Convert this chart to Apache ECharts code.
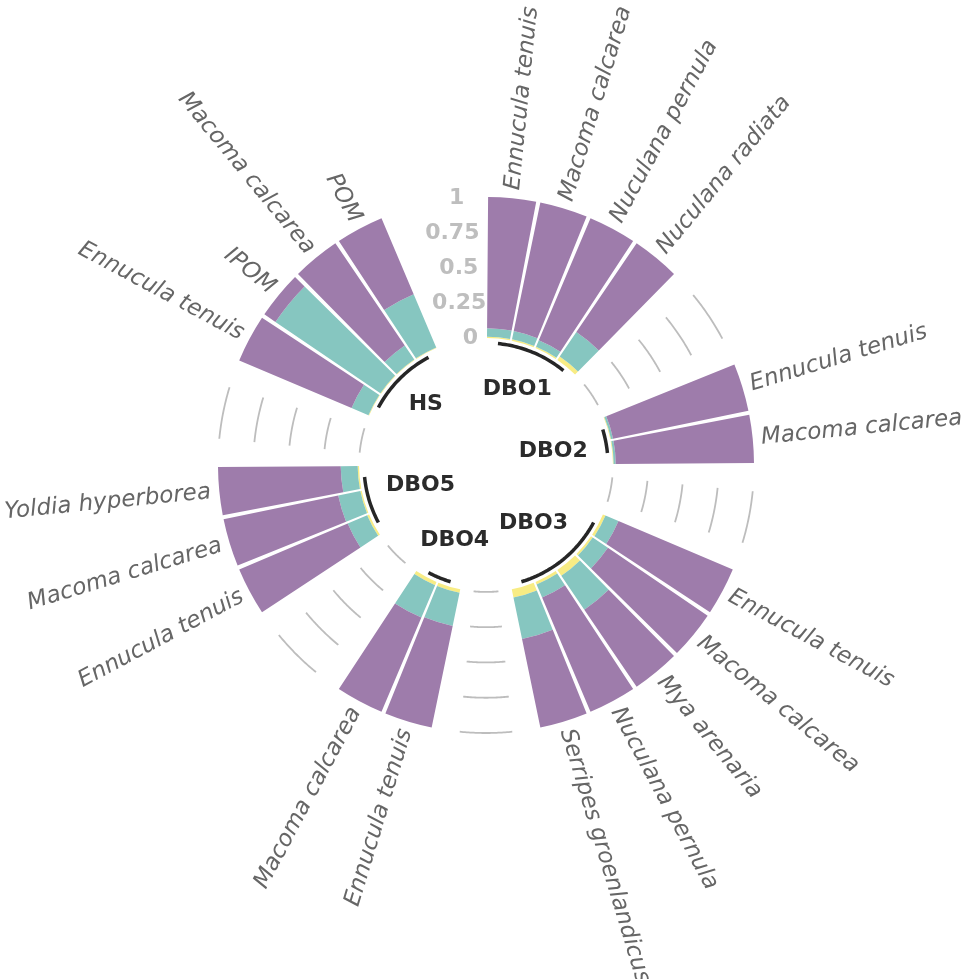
<!DOCTYPE html>
<html>
<head>
<meta charset="utf-8">
<script src="https://cdn.jsdelivr.net/npm/echarts@6/dist/echarts.min.js"></script>
<style>
  html, body { margin: 0; background: #fff; }
  #chart { width: 962px; height: 979px; }
</style>
</head>
<body>
<div id="chart"></div>
<script>
// groups go clockwise from the top, 2 empty slots after each group
const groupNames = ['DBO1', 'DBO2', 'DBO3', 'DBO4', 'DBO5', 'HS'];
const groupSizes = [4, 2, 5, 2, 3, 4];
const speciesNames = [
    'Ennucula tenuis', 'Macoma calcarea', 'Nuculana pernula', 'Nuculana radiata',
    'Ennucula tenuis', 'Macoma calcarea',
    'Ennucula tenuis', 'Macoma calcarea', 'Mya arenaria', 'Nuculana pernula', 'Serripes groenlandicus',
    'Ennucula tenuis', 'Macoma calcarea',
    'Ennucula tenuis', 'Macoma calcarea', 'Yoldia hyperborea',
    'Ennucula tenuis', 'IPOM', 'Macoma calcarea', 'POM'
];
// stacked shares, bottom to top
const yellowShare = [0.01, 0.01, 0.01, 0.03, 0.005, 0.005, 0.02, 0.015, 0.05, 0.02, 0.06, 0.025, 0.025, 0.015, 0.01, 0.01, 0.005, 0.005, 0.005, 0.005];
const tealShare   = [0.06, 0.06, 0.05, 0.21, 0.015, 0.015, 0.10, 0.13, 0.29, 0.10, 0.30, 0.24, 0.25, 0.15, 0.16, 0.12, 0.13, 0.90, 0.12, 0.41];
const purpleShare = [0.93, 0.93, 0.94, 0.76, 0.98, 0.98, 0.88, 0.855, 0.66, 0.88, 0.64, 0.735, 0.725, 0.835, 0.83, 0.87, 0.865, 0.095, 0.875, 0.585];
const tickValues = [0, 0.25, 0.5, 0.75, 1];
const tickLabels = ['0', '0.25', '0.5', '0.75', '1'];
const emptyPerGroup = 2;

const FONT = 'DejaVu Sans';
const COLORS = { yellow: '#f8ec84', teal: '#86c6c0', purple: '#9e7cab' };

// build slot arrays (bars + empty gap slots)
const slotCats = [], ySlots = [], tSlots = [], pSlots = [];
const speciesPos = [], groupSpans = [];
let k = 0, slot = 0;
groupNames.forEach((g, gi) => {
    const first = slot;
    for (let j = 0; j < groupSizes[gi]; j++) {
        slotCats.push('s' + slot);
        ySlots.push(yellowShare[k]);
        tSlots.push(tealShare[k]);
        pSlots.push(purpleShare[k]);
        speciesPos.push([1.06, slot + 0.5]);
        k++; slot++;
    }
    groupSpans.push({ name: g, first: first, last: slot - 1 });
    for (let e = 0; e < emptyPerGroup; e++) {
        slotCats.push('s' + slot);
        ySlots.push(null); tSlots.push(null); pSlots.push(null);
        slot++;
    }
});
const slotCount = slot;

// short grey arcs in every gap except the one before the first group
const gridArcs = [];
groupSpans.forEach((gs, gi) => {
    if (gi === 0) return;
    const a1 = gs.first - emptyPerGroup + 0.5;
    const a2 = gs.first - 1 + 0.5;
    tickValues.forEach(v => gridArcs.push([v, a1, a2]));
});
const baseArcs = groupSpans.map(gs => [-0.035, gs.first + 0.5, gs.last + 0.5]);
const groupPos = groupSpans.map(gs => [-0.16, (gs.first + gs.last + 1) / 2]);
const tickPos = tickValues.map(v => [v, slotCount - 0.5]);

const measureCtx = document.createElement('canvas').getContext('2d');
function textWidth(text, font) {
    measureCtx.font = font;
    return measureCtx.measureText(text).width;
}

function arcRenderer(color, width) {
    return function (params, api) {
        const r = api.value(0), a1 = api.value(1), a2 = api.value(2);
        const pts = [];
        for (let i = 0; i <= 30; i++) {
            pts.push(api.coord([r, a1 + (a2 - a1) * i / 30]));
        }
        return {
            type: 'polyline',
            shape: { points: pts },
            style: { stroke: color, lineWidth: width, fill: null }
        };
    };
}

const hidden = {
    axisLine: { show: false }, axisTick: { show: false },
    axisLabel: { show: false }, splitLine: { show: false }
};
const CENTER = [486, 465];
const RADIUS = 268;

const chart = echarts.init(document.getElementById('chart'), null, { renderer: 'canvas' });

const barBase = {
    type: 'bar',
    coordinateSystem: 'polar',
    polarIndex: 0,
    stack: 'share',
    barCategoryGap: '8%',
    silent: true
};

chart.setOption({
    animation: false,
    backgroundColor: '#fff',
    polar: [
        { center: CENTER, radius: RADIUS },
        { center: CENTER, radius: RADIUS }
    ],
    angleAxis: [
        Object.assign({ polarIndex: 0, type: 'category', data: slotCats, startAngle: 90, clockwise: true }, hidden),
        Object.assign({ polarIndex: 1, type: 'value', min: 0, max: slotCount, startAngle: 90, clockwise: true }, hidden)
    ],
    radiusAxis: [
        Object.assign({ polarIndex: 0, type: 'value', min: -0.9, max: 1 }, hidden),
        Object.assign({ polarIndex: 1, type: 'value', min: -0.9, max: 1 }, hidden)
    ],
    series: [
        Object.assign({ name: 'yellow', data: ySlots, itemStyle: { color: COLORS.yellow } }, barBase),
        Object.assign({ name: 'teal', data: tSlots, itemStyle: { color: COLORS.teal } }, barBase),
        Object.assign({ name: 'purple', data: pSlots, itemStyle: { color: COLORS.purple } }, barBase),
        {
            type: 'custom', coordinateSystem: 'polar', polarIndex: 1, silent: true,
            data: gridArcs,
            renderItem: arcRenderer('#bdbdbd', 1.8)
        },
        {
            type: 'custom', coordinateSystem: 'polar', polarIndex: 1, silent: true,
            data: baseArcs,
            renderItem: arcRenderer('#262626', 3.5)
        },
        {
            // value labels on the gap before DBO1
            type: 'custom', coordinateSystem: 'polar', polarIndex: 1, silent: true,
            data: tickPos,
            renderItem: function (params, api) {
                const p = api.coord([api.value(0), api.value(1)]);
                const text = tickLabels[params.dataIndex];
                const w = textWidth(text, 'bold 22px ' + FONT);
                return {
                    type: 'text', x: p[0] - 0.7 * w, y: p[1],
                    style: {
                        text: text, fill: '#bebebe',
                        fontFamily: FONT, fontWeight: 'bold', fontSize: 22,
                        align: 'left', verticalAlign: 'middle'
                    }
                };
            }
        },
        {
            // group names inside the ring
            type: 'custom', coordinateSystem: 'polar', polarIndex: 1, silent: true,
            data: groupPos,
            renderItem: function (params, api) {
                const cs = params.coordSys;
                const p = api.coord([api.value(0), api.value(1)]);
                const dx = p[0] - cs.cx, dy = p[1] - cs.cy;
                const len = Math.sqrt(dx * dx + dy * dy);
                const ux = dx / len, uy = dy / len;
                const text = groupNames[params.dataIndex];
                const w = textWidth(text, 'bold 22px ' + FONT);
                const off = w / 2 * Math.abs(ux) + 10 * Math.abs(uy);
                return {
                    type: 'text',
                    x: cs.cx + ux * (len - off), y: cs.cy + uy * (len - off),
                    style: {
                        text: text, fill: '#2b2b2b',
                        fontFamily: FONT, fontWeight: 'bold', fontSize: 22,
                        align: 'center', verticalAlign: 'middle'
                    }
                };
            }
        },
        {
            // species names, radial
            type: 'custom', coordinateSystem: 'polar', polarIndex: 1, silent: true,
            data: speciesPos,
            renderItem: function (params, api) {
                const cs = params.coordSys;
                const p = api.coord([api.value(0), api.value(1)]);
                const ang = Math.atan2(p[1] - cs.cy, p[0] - cs.cx);
                const flip = p[0] < cs.cx;
                return {
                    type: 'text', x: p[0], y: p[1],
                    rotation: flip ? Math.PI - ang : -ang,
                    style: {
                        text: speciesNames[params.dataIndex], fill: '#666666',
                        fontFamily: FONT, fontStyle: 'italic', fontSize: 23,
                        align: flip ? 'right' : 'left', verticalAlign: 'middle'
                    }
                };
            }
        }
    ]
});
</script>
</body>
</html>
